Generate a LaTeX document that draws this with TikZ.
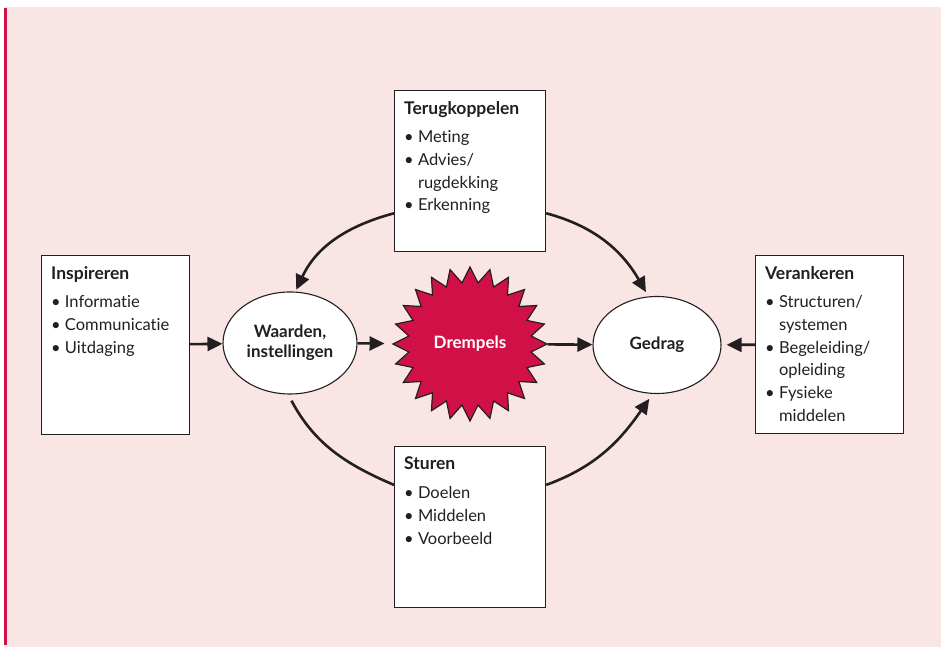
\documentclass[tikz,border=0pt]{standalone}
\usepackage{fontspec}
\setmainfont{Lato}[Ligatures=NoCommon]
\usetikzlibrary{shapes.geometric,arrows.meta}
\definecolor{roze}{RGB}{249,229,227}
\definecolor{rood}{RGB}{210,16,72}
\definecolor{inkt}{RGB}{35,31,32}
\newcommand{\inspr}{\phantom{\textbullet\ }}
\newcommand{\kop}[1]{{\fontsize{17.5}{22.7}\selectfont\textbf{#1}}}
\begin{document}
\begin{tikzpicture}[x=1pt,y=1pt,
    kader/.style={draw=inkt,fill=white,line width=1.2pt,anchor=north west,inner sep=0pt},
    tekst/.style={anchor=north west,align=left,inner sep=0pt,text=inkt,
      font=\fontsize{16.5}{22.7}\selectfont},
    bol/.style={ellipse,draw=inkt,fill=white,line width=1.1pt,inner sep=0pt,
      align=center,text=inkt,font=\bfseries\fontsize{17}{20}\selectfont},
    pijl/.style={line width=2.6pt,draw=inkt,-{Triangle[length=15pt,width=14pt]}}]
    \useasboundingbox (0, 0) rectangle (941, 647) ;
    % achtergrond
    \fill[white] (0, 0) rectangle (941, 647) ;
    \fill[roze] (4, 0) rectangle (941, 640) ;
    \fill[rood] (4, 2) rectangle (6.5, 639) ;
    % kaders
    \node[kader,minimum width=151pt,minimum height=161pt] (terug) at (394, 557) {} ;
    \node[kader,minimum width=148pt,minimum height=179pt] (inspi) at (41, 392) {} ;
    \node[kader,minimum width=148pt,minimum height=178pt] (veranker) at (755, 392) {} ;
    \node[kader,minimum width=151pt,minimum height=161pt] (sturen) at (394, 201) {} ;
    \node[tekst] (terug-tekst) at ([xshift=10pt,yshift=-11pt]terug.north west)
      {\kop{Terugkoppelen}\\[6pt] \textbullet\ Meting\\ \textbullet\ Advies/\\
       \inspr rugdekking\\ \textbullet\ Erkenning} ;
    \node[tekst] (inspi-tekst) at ([xshift=10pt,yshift=-11pt]inspi.north west)
      {\kop{Inspireren}\\[6pt] \textbullet\ Informatie\\ \textbullet\ Communicatie\\
       \textbullet\ Uitdaging} ;
    \node[tekst] (veranker-tekst) at ([xshift=10pt,yshift=-11pt]veranker.north west)
      {\kop{Verankeren}\\[6pt] \textbullet\ Structuren/\\ \inspr systemen\\
       \textbullet\ Begeleiding/\\ \inspr opleiding\\ \textbullet\ Fysieke\\ \inspr middelen} ;
    \node[tekst] (sturen-tekst) at ([xshift=10pt,yshift=-11pt]sturen.north west)
      {\kop{Sturen}\\[6pt] \textbullet\ Doelen\\ \textbullet\ Middelen\\ \textbullet\ Voorbeeld} ;
    % midden
    \node[bol,minimum width=134pt,minimum height=102pt] (waarden) at (290, 304)
      {Waarden,\\instellingen} ;
    \node[bol,minimum width=128pt,minimum height=97pt] (gedrag) at (657, 302) {Gedrag} ;
    \node[star,star points=24,star point ratio=1.25,minimum size=154pt,inner sep=0pt,
      fill=rood,draw=inkt,line width=1.2pt,text=white,
      font=\bfseries\fontsize{17}{20}\selectfont] (drempel) at (470, 303) {Drempels} ;
    % pijlen
    \draw[pijl] (inspi) -- (waarden) ;
    \draw[pijl,shorten >=8pt] (waarden) -- (drempel) ;
    \draw[pijl] (drempel) -- (gedrag) ;
    \draw[pijl,shorten >=5pt] (veranker) -- (gedrag) ;
    \draw[pijl,shorten >=2pt] (terug.209) to[out=195,in=65] (waarden.84) ;
    \draw[pijl,shorten >=5pt] (terug.331) to[out=-15,in=120] (gedrag.100) ;
    \draw[line width=2.6pt,draw=inkt,shorten <=7pt] (waarden.-92) to[out=-62,in=157] (sturen.151) ;
    \draw[pijl,shorten >=6pt] (sturen.29) to[out=20,in=-125] (gedrag.-95) ;
  \end{tikzpicture}
\end{document}
